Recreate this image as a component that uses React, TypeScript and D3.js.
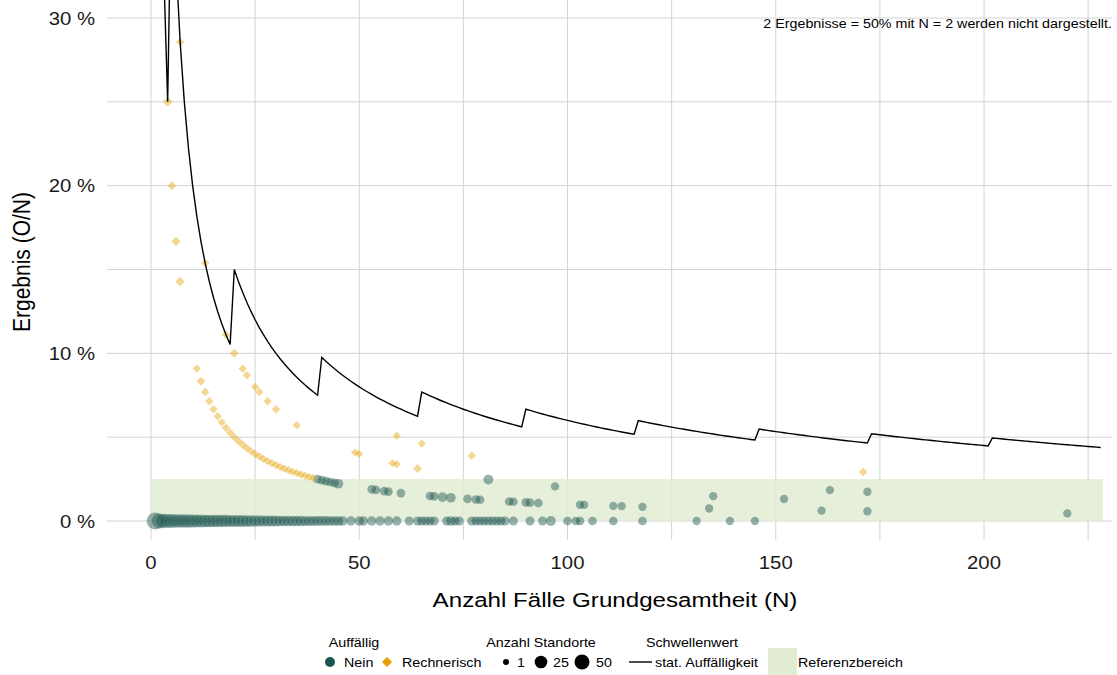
import React from 'react';
import * as d3 from 'd3';

// ---------- data ----------
const xTicks = [0, 50, 100, 150, 200];
const xMinorTicks = [25, 75, 125, 175, 225];
const yTicks = [0, 0.1, 0.2, 0.3];
const yTickLabels = ['0 %', '10 %', '20 %', '30 %'];
const yMinorTicks = [0.05, 0.15, 0.25];

// results with O = 0 ("Nein")
const zeroN = [
  1, 2, 3, 4, 5, 6, 7, 8, 9, 10, 11, 12, 13, 14, 15, 16, 17, 18, 19, 20,
  21, 22, 23, 24, 25, 26, 27, 28, 29, 30, 31, 32, 33, 34, 35, 36, 37, 38, 39, 40,
  41, 42, 43, 44, 45, 46, 48, 50, 51, 53, 55, 57, 59, 62, 64, 65, 66, 67, 68, 71,
  72, 73, 74, 77, 78, 79, 80, 81, 82, 83, 84, 85, 87, 91, 94, 96, 100, 102, 103, 106,
  111, 118, 131, 139, 145,
];
const zeroSites = [
  50, 36, 32, 30, 29, 28, 27, 26, 26, 25, 24, 24, 23, 23, 22, 22, 21, 21, 20, 20,
  19, 19, 18, 18, 17, 17, 16, 16, 15, 15, 14, 14, 14, 13, 13, 13, 12, 12, 12, 11,
  11, 11, 10, 10, 10, 10, 9, 9, 9, 9, 9, 9, 9, 8, 8, 8, 8, 8, 8, 8,
  10, 8, 8, 8, 8, 8, 8, 8, 8, 8, 8, 8, 8, 8, 8, 11, 7, 7, 7, 7,
  7, 7, 6, 6, 6,
];

// results with O > 0 inside the reference range ("Nein")
const greenN = [40, 41, 42, 43, 44, 45, 53, 54, 56, 57, 60, 67, 68, 70, 72, 76, 78, 79, 81, 86, 87, 90, 91, 93, 97, 103, 104, 111, 113, 118, 134, 135, 152, 161, 163, 172, 172, 220];
const greenO = [1, 1, 1, 1, 1, 1, 1, 1, 1, 1, 1, 1, 1, 1, 1, 1, 1, 1, 2, 1, 1, 1, 1, 1, 2, 1, 1, 1, 1, 1, 1, 2, 2, 1, 3, 3, 1, 1];
const greenSites = [7, 7, 7, 7, 7, 10, 7, 7, 7, 7, 7, 7, 7, 10, 10, 7, 7, 7, 11, 7, 7, 7, 7, 7, 6, 6, 6, 6, 6, 6, 6, 6, 6, 6, 6, 6, 6, 6];

// results outside the reference range ("Rechnerisch")
const yellowN = [4, 5, 6, 7, 11, 12, 13, 14, 15, 16, 17, 18, 19, 20, 21, 22, 23, 24, 25, 26, 27, 28, 29, 30, 31, 32, 33, 34, 35, 36, 37, 38, 39,
  7, 13, 18, 20, 22, 23, 25, 26, 28, 30, 35, 49, 50, 58, 59, 64, 59, 65, 77, 171];
const yellowO = [1, 1, 1, 1, 1, 1, 1, 1, 1, 1, 1, 1, 1, 1, 1, 1, 1, 1, 1, 1, 1, 1, 1, 1, 1, 1, 1, 1, 1, 1, 1, 1, 1,
  2, 2, 2, 2, 2, 2, 2, 2, 2, 2, 2, 2, 2, 2, 2, 2, 3, 3, 3, 5];
const yellowSites = [6, 4, 5, 5, 3, 4, 3, 3, 3, 3, 3, 3, 3, 3, 3, 3, 3, 3, 3, 3, 3, 3, 3, 3, 3, 3, 3, 3, 3, 3, 3, 3, 3,
  3, 3, 3, 4, 3, 3, 3, 3, 3, 3, 3, 3, 3, 3, 3, 4, 3, 3, 3, 3];

// threshold for statistical conspicuousness: critical count O per range of N
const thresholdFromN = [3, 4, 5, 20, 41, 65, 90, 117, 146, 173, 202];
const thresholdToN = [3, 4, 19, 40, 64, 89, 116, 145, 172, 201, 228];
const thresholdCount = [1, 1, 2, 3, 4, 5, 6, 7, 8, 9, 10];

// reference range
const refRange = [0, 0.025];
const refNRange = [0, 228.5];

const annotation = '2 Ergebnisse = 50% mit N = 2 werden nicht dargestellt.';

// ---------- layout ----------
const W = 1117;
const H = 675;
const panel = { left: 107, right: 1112, top: 0, bottom: 540 };
const FONT = '"Liberation Sans", Arial, Helvetica, sans-serif';
const GREEN = '#1b5550';
const ORANGE = '#E69F00';
const BAND = '#e2ecd3';
const GRID = '#d4d4d4';
const SX = 1.13; // horizontal stretch of text

const x = d3.scaleLinear().domain([0, 200]).range([151, 984]);
const y = d3.scaleLinear().domain([0, 0.3]).range([521, 18]);
const r = d3.scaleSqrt().domain([1, 50]).range([2.8, 8.5]);

function diamond(rad: number) {
  return `M0,${-rad}L${rad},0L0,${rad}L${-rad},0Z`;
}

function T(props: { x: number; y: number; size: number; anchor?: string; children: any; fill?: string; sx?: number }) {
  const sx = props.sx ?? SX;
  return (
    <text
      transform={`translate(${props.x},${props.y}) scale(${sx},1)`}
      fontSize={props.size}
      textAnchor={props.anchor || 'start'}
      fill={props.fill || '#000'}
    >
      {props.children}
    </text>
  );
}

export default function App() {
  const linePts: [number, number][] = [];
  thresholdFromN.forEach((from, i) => {
    for (let n = from; n <= thresholdToN[i]; n++) linePts.push([n, thresholdCount[i] / n]);
  });
  const line = d3.line<[number, number]>().x((d) => x(d[0])).y((d) => y(d[1]));

  const zeros = zeroN.map((n, i) => ({ n, v: 0, s: zeroSites[i] }));
  const greens = greenN.map((n, i) => ({ n, v: greenO[i] / n, s: greenSites[i] }));
  const yellows = yellowN.map((n, i) => ({ n, v: yellowO[i] / n, s: yellowSites[i] }));

  return (
    <svg width={W} height={H} style={{ position: 'absolute', left: 0, top: 0, background: '#fff' }} fontFamily={FONT}>
      <defs>
        <clipPath id="panel">
          <rect x={panel.left} y={panel.top} width={panel.right - panel.left} height={panel.bottom - panel.top} />
        </clipPath>
      </defs>
      {/* grid */}
      {yMinorTicks.concat(yTicks).map((t) => (
        <line key={'gy' + t} x1={panel.left} x2={panel.right} y1={y(t)} y2={y(t)} stroke={GRID} strokeWidth={1} />
      ))}
      {xTicks.concat(xMinorTicks).map((t) => (
        <line key={'gx' + t} x1={x(t)} x2={x(t)} y1={panel.top} y2={panel.bottom} stroke={GRID} strokeWidth={1} />
      ))}
      <g clipPath="url(#panel)">
        <rect x={x(refNRange[0])} y={y(refRange[1])} width={x(refNRange[1]) - x(refNRange[0])} height={y(refRange[0]) - y(refRange[1])} fill={BAND} opacity={0.85} />
        {zeros.map((d, i) => (
          <circle key={'z' + i} cx={x(d.n)} cy={y(d.v)} r={r(d.s)} fill={GREEN} fillOpacity={0.45} />
        ))}
        {greens.map((d, i) => (
          <circle key={'g' + i} cx={x(d.n)} cy={y(d.v)} r={r(d.s)} fill={GREEN} fillOpacity={0.45} />
        ))}
        {yellows.map((d, i) => (
          <path key={'y' + i} transform={`translate(${x(d.n)},${y(d.v)})`} d={diamond(r(d.s) * 1.2)} fill={ORANGE} fillOpacity={0.42} />
        ))}
        <path d={line(linePts) || ''} fill="none" stroke="#000" strokeWidth={1.4} />
      </g>
      {/* axes labels */}
      {yTicks.map((t, i) => (
        <T key={'yl' + t} x={95} y={y(t) + 6.5} size={18} anchor="end" fill="#1a1a1a">{yTickLabels[i]}</T>
      ))}
      {xTicks.map((t) => (
        <T key={'xl' + t} x={x(t)} y={569} size={18} anchor="middle" fill="#1a1a1a">{t}</T>
      ))}
      <T x={615} y={607} size={21} anchor="middle" sx={1.15}>Anzahl Fälle Grundgesamtheit (N)</T>
      <text transform="translate(30,262) rotate(-90) scale(1,1.13)" textAnchor="middle" fontSize={21} fill="#000">Ergebnis (O/N)</text>
      <T x={1112} y={28} size={13} anchor="end" sx={1.1}>{annotation}</T>

      {/* legend */}
      <g fill="#000">
        <T x={354} y={647} size={13} anchor="middle" sx={1.1}>Auffällig</T>
        <circle cx={330} cy={662} r={5} fill={GREEN} />
        <T x={344} y={667} size={13} sx={1.1}>Nein</T>
        <path transform="translate(387,662)" d={diamond(5)} fill={ORANGE} />
        <T x={402} y={667} size={13} sx={1.1}>Rechnerisch</T>

        <T x={541} y={647} size={13} anchor="middle" sx={1.1}>Anzahl Standorte</T>
        <circle cx={506} cy={662} r={3} fill="#000" />
        <T x={517} y={667} size={13} sx={1.1}>1</T>
        <circle cx={541} cy={662} r={6.3} fill="#000" />
        <T x={553} y={667} size={13} sx={1.1}>25</T>
        <circle cx={582} cy={662} r={7.5} fill="#000" />
        <T x={596} y={667} size={13} sx={1.1}>50</T>

        <T x={692} y={647} size={13} anchor="middle" sx={1.1}>Schwellenwert</T>
        <line x1={629} x2={652} y1={662} y2={662} stroke="#000" strokeWidth={1.4} />
        <T x={655} y={667} size={13} sx={1.1}>stat. Auffälligkeit</T>

        <rect x={768} y={648} width={29} height={27} fill={BAND} />
        <T x={798} y={667} size={13} sx={1.1}>Referenzbereich</T>
      </g>
    </svg>
  );
}
